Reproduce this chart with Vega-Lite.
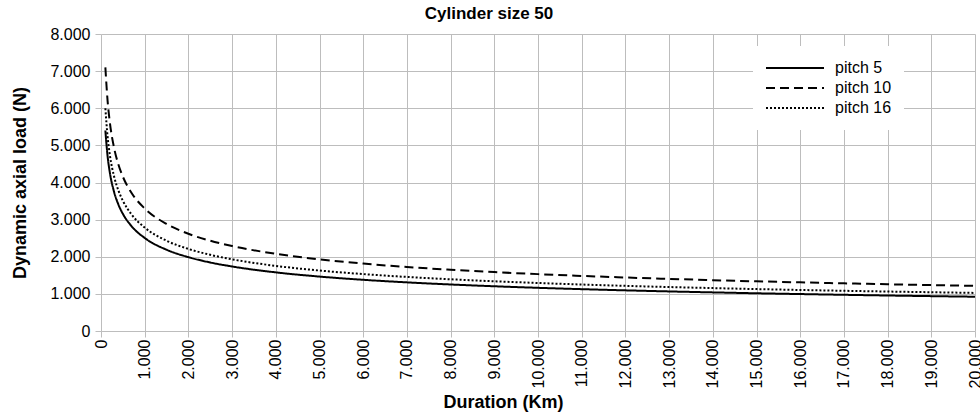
{
  "$schema": "https://vega.github.io/schema/vega-lite/v6.json",
  "width": 874,
  "height": 297,
  "autosize": {"type": "none"},
  "padding": {"left": 101, "top": 34, "right": 5, "bottom": 87},
  "background": "white",
  "title": {"text": "Cylinder size 50", "font": "Liberation Sans", "fontSize": 17, "fontWeight": "bold", "color": "#000", "offset": 3, "dx": -49},
  "config": {"view": {"stroke": null}},
  "data": {"values": [
    {"d":100,"p":"pitch 5","v":5400},{"d":150,"p":"pitch 5","v":4717},{"d":200,"p":"pitch 5","v":4285},{"d":300,"p":"pitch 5","v":3744},{"d":400,"p":"pitch 5","v":3401},{"d":500,"p":"pitch 5","v":3157},{"d":700,"p":"pitch 5","v":2822},{"d":1000,"p":"pitch 5","v":2506},{"d":1500,"p":"pitch 5","v":2189},{"d":2000,"p":"pitch 5","v":1989},{"d":2500,"p":"pitch 5","v":1846},{"d":3000,"p":"pitch 5","v":1738},{"d":4000,"p":"pitch 5","v":1579},{"d":5000,"p":"pitch 5","v":1466},{"d":6000,"p":"pitch 5","v":1379},{"d":7000,"p":"pitch 5","v":1310},{"d":8000,"p":"pitch 5","v":1253},{"d":9000,"p":"pitch 5","v":1205},{"d":10000,"p":"pitch 5","v":1163},{"d":11000,"p":"pitch 5","v":1127},{"d":12000,"p":"pitch 5","v":1095},{"d":13000,"p":"pitch 5","v":1066},{"d":14000,"p":"pitch 5","v":1040},{"d":15000,"p":"pitch 5","v":1016},{"d":16000,"p":"pitch 5","v":995},{"d":17000,"p":"pitch 5","v":975},{"d":18000,"p":"pitch 5","v":956},{"d":19000,"p":"pitch 5","v":939},{"d":20000,"p":"pitch 5","v":923},
    {"d":100,"p":"pitch 10","v":7100},{"d":150,"p":"pitch 10","v":6211},{"d":200,"p":"pitch 10","v":5643},{"d":300,"p":"pitch 10","v":4930},{"d":400,"p":"pitch 10","v":4479},{"d":500,"p":"pitch 10","v":4158},{"d":700,"p":"pitch 10","v":3717},{"d":1000,"p":"pitch 10","v":3300},{"d":1500,"p":"pitch 10","v":2883},{"d":2000,"p":"pitch 10","v":2619},{"d":2500,"p":"pitch 10","v":2431},{"d":3000,"p":"pitch 10","v":2288},{"d":4000,"p":"pitch 10","v":2079},{"d":5000,"p":"pitch 10","v":1930},{"d":6000,"p":"pitch 10","v":1816},{"d":7000,"p":"pitch 10","v":1725},{"d":8000,"p":"pitch 10","v":1650},{"d":9000,"p":"pitch 10","v":1586},{"d":10000,"p":"pitch 10","v":1532},{"d":11000,"p":"pitch 10","v":1484},{"d":12000,"p":"pitch 10","v":1441},{"d":13000,"p":"pitch 10","v":1403},{"d":14000,"p":"pitch 10","v":1369},{"d":15000,"p":"pitch 10","v":1338},{"d":16000,"p":"pitch 10","v":1310},{"d":17000,"p":"pitch 10","v":1283},{"d":18000,"p":"pitch 10","v":1259},{"d":19000,"p":"pitch 10","v":1237},{"d":20000,"p":"pitch 10","v":1216},
    {"d":100,"p":"pitch 16","v":6000},{"d":150,"p":"pitch 16","v":5242},{"d":200,"p":"pitch 16","v":4762},{"d":300,"p":"pitch 16","v":4160},{"d":400,"p":"pitch 16","v":3780},{"d":500,"p":"pitch 16","v":3509},{"d":700,"p":"pitch 16","v":3137},{"d":1000,"p":"pitch 16","v":2785},{"d":1500,"p":"pitch 16","v":2433},{"d":2000,"p":"pitch 16","v":2211},{"d":2500,"p":"pitch 16","v":2052},{"d":3000,"p":"pitch 16","v":1931},{"d":4000,"p":"pitch 16","v":1754},{"d":5000,"p":"pitch 16","v":1629},{"d":6000,"p":"pitch 16","v":1533},{"d":7000,"p":"pitch 16","v":1456},{"d":8000,"p":"pitch 16","v":1393},{"d":9000,"p":"pitch 16","v":1339},{"d":10000,"p":"pitch 16","v":1293},{"d":11000,"p":"pitch 16","v":1252},{"d":12000,"p":"pitch 16","v":1216},{"d":13000,"p":"pitch 16","v":1184},{"d":14000,"p":"pitch 16","v":1156},{"d":15000,"p":"pitch 16","v":1129},{"d":16000,"p":"pitch 16","v":1105},{"d":17000,"p":"pitch 16","v":1083},{"d":18000,"p":"pitch 16","v":1063},{"d":19000,"p":"pitch 16","v":1044},{"d":20000,"p":"pitch 16","v":1026}
  ]},
  "mark": {"type": "line", "color": "#000", "strokeWidth": 2, "interpolate": "monotone"},
  "encoding": {
    "x": {"field": "d", "type": "quantitative", "scale": {"domain": [0, 20000], "nice": false, "zero": true},
      "axis": {"title": "Duration (Km)", "values": [0,1000,2000,3000,4000,5000,6000,7000,8000,9000,10000,11000,12000,13000,14000,15000,16000,17000,18000,19000,20000],
        "labelExpr": "replace(format(datum.value, ','), ',', '.')", "labelAngle": -90, "labelAlign": "right", "labelBaseline": "middle",
        "labelFont": "Liberation Sans", "labelFontSize": 16, "labelColor": "#000", "labelPadding": 2, "labelOverlap": false, "labelFlush": false,
        "titleFont": "Liberation Sans", "titleFontSize": 18, "titleFontWeight": "bold", "titleColor": "#000", "titlePadding": 6, "titleX": 402,
        "grid": true, "gridColor": "#bdbdbd", "gridWidth": 1, "domain": false, "tickColor": "#bdbdbd", "tickSize": 6}},
    "y": {"field": "v", "type": "quantitative", "scale": {"domain": [0, 8000], "nice": false},
      "axis": {"title": "Dynamic axial load (N)", "values": [0,1000,2000,3000,4000,5000,6000,7000,8000],
        "labelExpr": "replace(format(datum.value, ','), ',', '.')",
        "labelFont": "Liberation Sans", "labelFontSize": 16, "labelColor": "#000", "labelPadding": 5, "labelFlush": false,
        "titleFont": "Liberation Sans", "titleFontSize": 18, "titleFontWeight": "bold", "titleColor": "#000", "titlePadding": 20,
        "grid": true, "gridColor": "#bdbdbd", "gridWidth": 1, "domain": false, "tickColor": "#bdbdbd", "tickSize": 6}},
    "strokeDash": {"field": "p", "type": "nominal", "sort": ["pitch 5", "pitch 10", "pitch 16"],
      "scale": {"domain": ["pitch 5", "pitch 10", "pitch 16"], "range": [[1, 0], [9, 5], [2, 2]]},
      "legend": {"title": null, "orient": "none", "legendX": 652, "legendY": 12, "symbolType": "stroke", "symbolSize": 3364, "symbolStrokeWidth": 2, "symbolStrokeColor": "#000",
        "clipHeight": 20, "rowPadding": 0,
        "labelFont": "Liberation Sans", "labelFontSize": 16, "labelColor": "#000", "labelOffset": 10,
        "fillColor": "white", "padding": 12}}
  }
}
